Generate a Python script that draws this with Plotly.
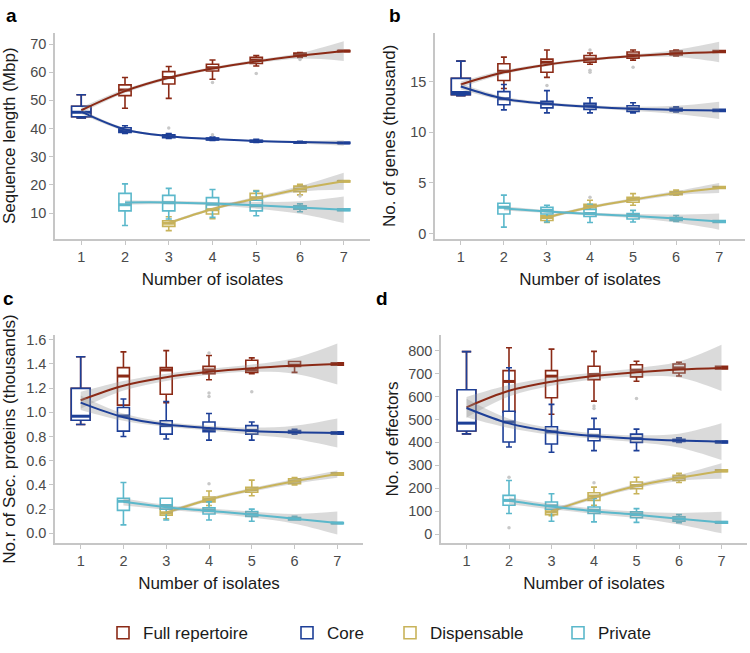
import plotly.graph_objects as go

W, H = 750, 653
FONT = "Liberation Sans, Arial, sans-serif"

SERIES = ["Full repertoire", "Core", "Dispensable", "Private"]
COLORS = {"Full repertoire": "#8B2A16", "Core": "#1D3F97",
          "Dispensable": "#C8B35A", "Private": "#5BB8CB"}
LEGEND_ID = {"Full repertoire": "legend", "Core": "legend2",
             "Dispensable": "legend3", "Private": "legend4"}

X_ALL = [1, 2, 3, 4, 5, 6, 7]
X_FC = [2, 3, 4, 5, 6, 7]      # full / core boxes (x=1 drawn separately, wider)
X_PRIV = [2, 3, 4, 5, 6, 7]
X_DISP = [3, 4, 5, 6, 7]

# ---------------- Panel a : Sequence length (Mbp) ----------------
a_x1 = dict(lf=43.8, q1=44.2, med=45.8, q3=47.9, uf=52.0)
a_full = dict(lf=[47.2, 50.7, 57.5, 62.2, 65.2, 67.3], q1=[51.7, 55.8, 60.4, 63.1, 65.7, 67.3],
              med=[53.7, 58.1, 61.6, 64.3, 66.3, 67.5], q3=[55.5, 60.2, 62.8, 65.3, 66.8, 67.7],
              uf=[58.1, 62.0, 64.3, 65.9, 67.0, 67.7])
a_core = dict(lf=[38.3, 36.5, 35.8, 35.1, 34.8, 34.7], q1=[38.6, 36.8, 36.0, 35.3, 34.9, 34.7],
              med=[39.3, 37.2, 36.3, 35.5, 35.1, 34.9], q3=[40.3, 37.8, 36.6, 35.8, 35.3, 35.1],
              uf=[41.0, 38.2, 37.0, 36.2, 35.5, 35.1])
a_priv = dict(lf=[5.6, 7.9, 8.5, 9.1, 10.5, 10.9], q1=[10.8, 10.8, 11.4, 10.8, 11.4, 10.9],
              med=[13.0, 13.7, 13.2, 12.6, 12.0, 11.2], q3=[17.0, 16.3, 15.5, 14.6, 12.6, 11.5],
              uf=[20.4, 18.8, 18.4, 17.8, 13.3, 11.5])
a_disp = dict(lf=[3.8, 8.0, 13.0, 16.5, 21.1], q1=[5.3, 9.7, 14.3, 17.6, 21.1],
              med=[6.4, 11.2, 15.5, 18.6, 21.3], q3=[7.3, 12.6, 17.0, 19.6, 21.5],
              uf=[8.7, 13.8, 18.0, 20.2, 21.5])
a_out_x = [3, 4, 4, 5, 6, 6]
a_out_y = [40.2, 56.3, 37.8, 59.5, 64.5, 16.1]
a_fit = {
    "Full repertoire": ([46.5, 53.3, 58.0, 61.3, 63.8, 65.8, 67.5],
                        [45.5, 52.6, 57.4, 60.8, 63.2, 64.8, 64.0],
                        [47.5, 54.0, 58.6, 61.8, 64.4, 66.8, 71.0]),
    "Core": ([46.0, 39.7, 37.3, 36.3, 35.6, 35.2, 34.9],
             [45.2, 39.2, 37.0, 36.0, 35.3, 34.7, 33.9],
             [46.8, 40.2, 37.6, 36.6, 35.9, 35.7, 35.9]),
    "Dispensable": ([6.5, 11.5, 15.2, 18.6, 21.3],
                    [6.0, 11.0, 14.6, 17.6, 18.3],
                    [7.0, 12.0, 15.8, 19.6, 24.3]),
    "Private": ([13.8, 13.8, 13.4, 12.8, 12.0, 11.2],
                [13.0, 13.2, 12.8, 11.6, 9.8, 6.5],
                [14.6, 14.4, 14.0, 14.0, 14.2, 15.9]),
}

# ---------------- Panel b : No. of genes (thousand) ----------------
b_x1 = dict(lf=13.6, q1=13.7, med=13.9, q3=15.3, uf=17.0)
b_full = dict(lf=[14.3, 15.4, 16.7, 17.1, 17.5, 17.85], q1=[15.1, 15.9, 16.9, 17.3, 17.6, 17.85],
              med=[16.0, 16.9, 17.2, 17.6, 17.8, 17.95], q3=[16.75, 17.2, 17.55, 17.9, 18.0, 18.05],
              uf=[17.4, 18.1, 17.8, 18.1, 18.1, 18.05])
b_core = dict(lf=[12.2, 11.9, 11.9, 11.9, 12.0, 12.05], q1=[12.7, 12.4, 12.25, 12.05, 12.1, 12.05],
              med=[13.3, 12.8, 12.6, 12.3, 12.2, 12.15], q3=[14.0, 13.05, 12.85, 12.6, 12.35, 12.25],
              uf=[14.7, 14.1, 13.4, 12.9, 12.5, 12.25])
b_priv = dict(lf=[0.65, 1.15, 1.1, 1.15, 1.2, 1.1], q1=[1.95, 1.95, 1.7, 1.45, 1.3, 1.1],
              med=[2.6, 2.3, 2.0, 1.8, 1.45, 1.2], q3=[3.0, 2.6, 2.4, 2.0, 1.6, 1.3],
              uf=[3.8, 2.8, 2.9, 2.3, 1.8, 1.3])
b_disp = dict(lf=[1.1, 2.0, 2.8, 3.8, 4.45], q1=[1.3, 2.4, 3.1, 3.85, 4.45],
              med=[1.6, 2.7, 3.4, 4.0, 4.55], q3=[1.8, 2.9, 3.6, 4.15, 4.65],
              uf=[2.1, 3.3, 3.95, 4.3, 4.65])
b_out_x = [3, 4, 4, 4, 5, 4]
b_out_y = [14.6, 16.1, 15.9, 18.1, 16.4, 3.6]
b_fit = {
    "Full repertoire": ([14.7, 15.9, 16.65, 17.15, 17.5, 17.75, 17.9],
                        [14.4, 15.7, 16.5, 17.0, 17.35, 17.4, 16.9],
                        [15.0, 16.1, 16.8, 17.3, 17.65, 18.1, 18.9]),
    "Core": ([14.5, 13.3, 12.8, 12.5, 12.3, 12.2, 12.15],
             [14.2, 13.1, 12.65, 12.35, 12.1, 11.8, 11.3],
             [14.8, 13.5, 12.95, 12.65, 12.5, 12.6, 13.0]),
    "Dispensable": ([1.6, 2.6, 3.35, 4.0, 4.5],
                    [1.45, 2.45, 3.2, 3.8, 4.0],
                    [1.75, 2.75, 3.5, 4.2, 5.0]),
    "Private": ([2.5, 2.2, 1.95, 1.75, 1.5, 1.2],
                [2.3, 2.05, 1.8, 1.55, 1.1, 0.4],
                [2.7, 2.35, 2.1, 1.95, 1.9, 2.0]),
}

# ---------------- Panel c : Sec. proteins (thousands) ----------------
c_x1 = dict(lf=0.90, q1=0.935, med=0.968, q3=1.198, uf=1.46)
c_full = dict(lf=[1.06, 1.08, 1.27, 1.32, 1.33, 1.39], q1=[1.06, 1.15, 1.32, 1.33, 1.38, 1.39],
              med=[1.30, 1.35, 1.35, 1.35, 1.39, 1.40], q3=[1.37, 1.37, 1.38, 1.43, 1.42, 1.41],
              uf=[1.50, 1.51, 1.47, 1.45, 1.42, 1.41])
c_core = dict(lf=[0.80, 0.78, 0.77, 0.77, 0.82, 0.82], q1=[0.845, 0.82, 0.84, 0.82, 0.83, 0.82],
              med=[0.97, 0.89, 0.855, 0.85, 0.84, 0.83], q3=[1.04, 0.93, 0.92, 0.89, 0.85, 0.84],
              uf=[1.11, 1.09, 0.99, 0.92, 0.86, 0.84])
c_priv = dict(lf=[0.07, 0.11, 0.11, 0.10, 0.11, 0.08], q1=[0.19, 0.20, 0.16, 0.14, 0.11, 0.08],
              med=[0.265, 0.23, 0.19, 0.16, 0.12, 0.085], q3=[0.29, 0.29, 0.21, 0.18, 0.13, 0.09],
              uf=[0.42, 0.29, 0.26, 0.20, 0.14, 0.09])
c_disp = dict(lf=[0.12, 0.23, 0.31, 0.40, 0.48], q1=[0.15, 0.26, 0.34, 0.41, 0.48],
              med=[0.17, 0.28, 0.36, 0.43, 0.49], q3=[0.20, 0.30, 0.38, 0.45, 0.50],
              uf=[0.22, 0.35, 0.44, 0.46, 0.50])
c_out_x = [4, 4, 4, 5, 4]
c_out_y = [1.16, 1.13, 1.49, 1.17, 0.41]
c_fit = {
    "Full repertoire": ([1.10, 1.22, 1.29, 1.335, 1.365, 1.385, 1.40],
                        [1.03, 1.18, 1.26, 1.31, 1.335, 1.32, 1.23],
                        [1.17, 1.26, 1.32, 1.36, 1.395, 1.45, 1.57]),
    "Core": ([1.08, 0.96, 0.90, 0.87, 0.845, 0.835, 0.83],
             [1.02, 0.93, 0.88, 0.85, 0.815, 0.78, 0.71],
             [1.14, 0.99, 0.92, 0.89, 0.875, 0.89, 0.95]),
    "Dispensable": ([0.17, 0.28, 0.36, 0.43, 0.49],
                    [0.155, 0.265, 0.345, 0.41, 0.46],
                    [0.185, 0.295, 0.375, 0.45, 0.52]),
    "Private": ([0.26, 0.215, 0.185, 0.155, 0.12, 0.085],
                [0.23, 0.195, 0.165, 0.13, 0.08, -0.01],
                [0.29, 0.235, 0.205, 0.18, 0.16, 0.18]),
}

# ---------------- Panel d : No. of effectors ----------------
d_x1 = dict(lf=437, q1=450, med=484, q3=630, uf=796)
d_full = dict(lf=[532, 523, 580, 667, 690, 720], q1=[532, 595, 674, 686, 703, 720],
              med=[666, 689, 696, 715, 725, 726], q3=[713, 713, 732, 739, 742, 732],
              uf=[813, 807, 797, 754, 750, 732])
d_core = dict(lf=[380, 357, 364, 364, 400, 398], q1=[402, 393, 407, 400, 404, 398],
              med=[489, 446, 429, 417, 408, 402], q3=[536, 468, 458, 436, 414, 406],
              uf=[726, 566, 505, 458, 420, 406])
d_priv = dict(lf=[90, 56, 53, 51, 50, 47], q1=[126, 108, 90, 71, 56, 47],
              med=[147, 123, 104, 85, 65, 51], q3=[169, 140, 118, 97, 75, 55],
              uf=[234, 176, 155, 111, 85, 55])
d_disp = dict(lf=[80, 126, 176, 225, 272], q1=[85, 147, 198, 234, 272],
              med=[97, 166, 212, 245, 276], q3=[111, 180, 227, 256, 280],
              uf=[125, 205, 248, 265, 280])
d_out_x = [4, 4, 5, 2, 2, 4]
d_out_y = [559, 548, 592, 248, 27, 224]
d_fit = {
    "Full repertoire": ([553, 625, 665, 690, 706, 718, 725],
                        [508, 600, 647, 675, 688, 683, 624],
                        [598, 650, 683, 705, 724, 753, 826]),
    "Core": ([550, 483, 448, 428, 416, 408, 403],
             [510, 463, 433, 416, 401, 378, 323],
             [590, 503, 463, 440, 431, 438, 483]),
    "Dispensable": ([100, 160, 210, 245, 275],
                    [92, 152, 200, 232, 241],
                    [108, 168, 220, 258, 309]),
    "Private": ([145, 120, 100, 84, 67, 50],
                [130, 108, 88, 70, 42, 3],
                [160, 132, 112, 98, 92, 97]),
}

panels = [
    dict(label="a", x1=a_x1, full=a_full, core=a_core, priv=a_priv, disp=a_disp,
         ox=a_out_x, oy=a_out_y, fit=a_fit, ytitle="Sequence length (Mbp)",
         yrange=[0.9, 74], ytick=[10, 20, 30, 40, 50, 60, 70], yfmt="", standoff=12,
         xdom=[55, 370], ydom=[30, 238], lab=(11, 13)),
    dict(label="b", x1=b_x1, full=b_full, core=b_core, priv=b_priv, disp=b_disp,
         ox=b_out_x, oy=b_out_y, fit=b_fit, ytitle="No. of genes (thousand)",
         yrange=[-0.5, 19.8], ytick=[0, 5, 10, 15], yfmt="", standoff=10,
         xdom=[435, 745], ydom=[30, 238], lab=(395, 13)),
    dict(label="c", x1=c_x1, full=c_full, core=c_core, priv=c_priv, disp=c_disp,
         ox=c_out_x, oy=c_out_y, fit=c_fit, ytitle="No.r of Sec. proteins (thousands)",
         yrange=[-0.08, 1.64], ytick=[0, 0.2, 0.4, 0.6, 0.8, 1.0, 1.2, 1.4, 1.6], yfmt=".1f",
         standoff=6, xdom=[55, 363], ydom=[335, 545], lab=(8, 298)),
    dict(label="d", x1=d_x1, full=d_full, core=d_core, priv=d_priv, disp=d_disp,
         ox=d_out_x, oy=d_out_y, fit=d_fit, ytitle="No. of effectors",
         yrange=[-39, 869], ytick=[0, 100, 200, 300, 400, 500, 600, 700, 800], yfmt="",
         standoff=5, xdom=[441, 747], ydom=[335, 545], lab=(382, 298)),
]

BOX_W = 0.28
BOX_W1 = 0.44
LINE_EW_SCALE = 1.4   # plotly's line-ew symbol length is 1.4 x marker size

fig = go.Figure()


def add_box(xs, st, name, xa, ya, width, showlegend):
    fig.add_trace(go.Box(
        x=xs, q1=st["q1"], median=st["med"], q3=st["q3"],
        lowerfence=st["lf"], upperfence=st["uf"],
        name=name, legendgroup=name, showlegend=showlegend, legend=LEGEND_ID[name],
        width=width, fillcolor="white", boxpoints=False,
        line=dict(color=COLORS[name], width=1.6),
        xaxis=xa, yaxis=ya, hoverinfo="skip"))


def add_median(xs, meds, name, xa, ya, px_len):
    # emphasised (thick) median bar, as in the ggplot original
    fig.add_trace(go.Scatter(
        x=xs, y=meds, mode="markers", showlegend=False, hoverinfo="skip",
        marker=dict(symbol="line-ew", size=px_len / LINE_EW_SCALE,
                    line=dict(color=COLORS[name], width=3)),
        xaxis=xa, yaxis=ya))


annotations = []
layout_axes = {}
for i, p in enumerate(panels):
    n = "" if i == 0 else str(i + 1)
    xa, ya = "x" + n, "y" + n
    first = (i == 0)
    px_per_unit = (p["xdom"][1] - p["xdom"][0]) / 7.2
    groups = [("full", "Full repertoire", X_FC), ("core", "Core", X_FC),
              ("disp", "Dispensable", X_DISP), ("priv", "Private", X_PRIV)]
    for key, name, xs in groups:
        add_box(xs, p[key], name, xa, ya, BOX_W, first)
    for name in ["Full repertoire", "Core"]:
        x1 = p["x1"]
        add_box([1], {k: [v] for k, v in x1.items()}, name, xa, ya, BOX_W1, False)
    for key, name, xs in groups:
        add_median(xs, p[key]["med"], name, xa, ya, BOX_W * px_per_unit)
    add_median([1], [p["x1"]["med"]], "Core", xa, ya, BOX_W1 * px_per_unit)
    fig.add_trace(go.Scatter(x=p["ox"], y=p["oy"], mode="markers",
                             marker=dict(color="#c8c8c8", size=3.5), showlegend=False,
                             xaxis=xa, yaxis=ya, hoverinfo="skip"))
    for name in SERIES:
        fit, lo, hi = p["fit"][name]
        xs = X_ALL[len(X_ALL) - len(fit):]
        fig.add_trace(go.Scatter(x=xs, y=lo, mode="lines", line=dict(width=0, shape="spline"),
                                 showlegend=False, xaxis=xa, yaxis=ya, hoverinfo="skip"))
        fig.add_trace(go.Scatter(x=xs, y=hi, mode="lines", line=dict(width=0, shape="spline"),
                                 fill="tonexty", fillcolor="rgba(150,150,150,0.35)",
                                 showlegend=False, xaxis=xa, yaxis=ya, hoverinfo="skip"))
        fig.add_trace(go.Scatter(x=xs, y=fit, mode="lines",
                                 line=dict(color=COLORS[name], width=2, shape="spline"),
                                 showlegend=False, xaxis=xa, yaxis=ya, hoverinfo="skip"))

    axis_common = dict(showline=True, linecolor="#c6c6c6", linewidth=1.5, ticks="outside",
                       ticklen=4, tickcolor="#c6c6c6", tickwidth=1.2, showgrid=False,
                       zeroline=False, tickfont=dict(size=14.5, color="#4a4a4a", family=FONT))
    layout_axes["xaxis" + n] = dict(
        axis_common, domain=[p["xdom"][0] / W, p["xdom"][1] / W], range=[0.4, 7.6],
        tickvals=X_ALL, anchor=ya,
        title=dict(text="Number of isolates", font=dict(size=17, color="#1a1a1a", family=FONT),
                   standoff=9))
    layout_axes["yaxis" + n] = dict(
        axis_common, domain=[(H - p["ydom"][1]) / H, (H - p["ydom"][0]) / H],
        range=p["yrange"], tickvals=p["ytick"], tickformat=p["yfmt"], anchor=xa,
        title=dict(text=p["ytitle"], font=dict(size=17, color="#1a1a1a", family=FONT),
                   standoff=p["standoff"]))
    annotations.append(dict(text="<b>%s</b>" % p["label"], x=p["lab"][0] / W, y=(H - p["lab"][1]) / H,
                            xref="paper", yref="paper", showarrow=False,
                            font=dict(size=19, color="black", family=FONT),
                            xanchor="center", yanchor="middle"))

legend_common = dict(orientation="h", xanchor="left", y=(H - 636) / H, yanchor="middle",
                     font=dict(size=17, color="#1a1a1a", family=FONT),
                     bgcolor="rgba(0,0,0,0)")
legend_left_px = {"legend": 103, "legend2": 287, "legend3": 390, "legend4": 558}
legends = {k: dict(legend_common, x=v / W) for k, v in legend_left_px.items()}

fig.update_layout(
    width=W, height=H, margin=dict(l=0, r=0, t=0, b=0),
    plot_bgcolor="white", paper_bgcolor="white",
    boxmode="overlay",
    font=dict(family=FONT),
    annotations=annotations,
    **legends,
    **layout_axes,
)

fig.write_html("out.html")
